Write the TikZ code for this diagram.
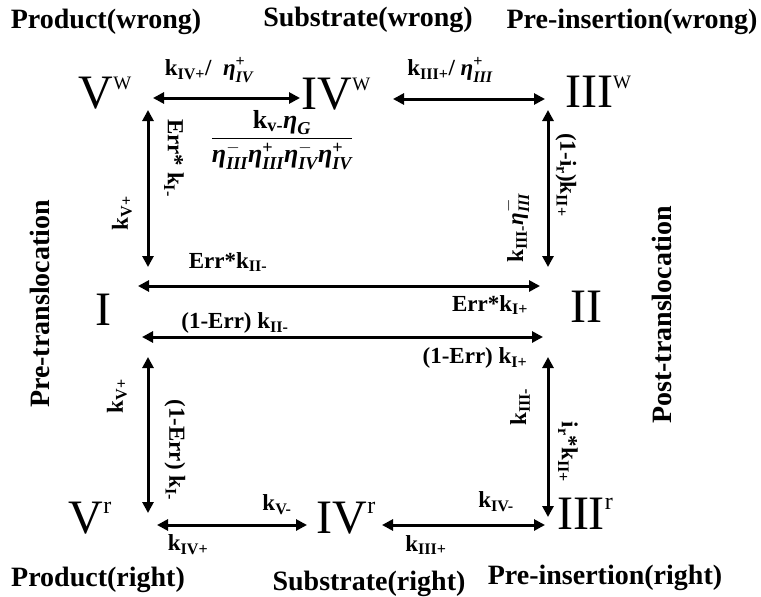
\documentclass[tikz,border=0pt]{standalone}
\usepackage{amsmath}
\usepackage{fontspec}
\setmainfont{Liberation Serif}
\usetikzlibrary{arrows.meta}

% state labels: numeral with raised W or r
\newcommand{\stateW}[1]{#1\raisebox{19pt}{\fontsize{19}{19}\selectfont W}}
\newcommand{\stateR}[1]{#1\raisebox{20pt}{\fontsize{24}{24}\selectfont r}}
% rate constants and eta factors
\newcommand{\kr}[1]{k\ensuremath{_{\text{#1}}}}
\newcommand{\et}[2]{\ensuremath{\text{\itshape η}^{\text{#1}}_{\text{\itshape #2}}}}
\newcommand{\etg}[1]{\ensuremath{\text{\itshape η}_{\text{\itshape #1}}}}

\tikzset{
    state/.style={
        font=\fontsize{48}{52}\selectfont, inner sep=0pt
    },
    head/.style={
        font=\bfseries\fontsize{28}{30}\selectfont, inner sep=0pt
    },
    rate/.style={
        font=\bfseries\fontsize{23}{26}\selectfont, inner sep=0pt
    },
    link/.style={
        line width=3pt,
        {Triangle[length=11pt,width=11pt]}-{Triangle[length=11pt,width=11pt]}
    }
}

\begin{document}
\begin{tikzpicture}[x=1pt,y=-1pt]

% --- canvas (pixel grid of the reference) ---
    \useasboundingbox (0,0) rectangle (761,597);

% states
    \node[state] (Vw)   at (105,93)  {\stateW{V}};
    \node[state] (IVw)  at (336,94)  {\stateW{IV}};
    \node[state] (IIIw) at (598,92)  {\stateW{III}};
    \node[state] (I)    at (103,310) {I};
    \node[state] (II)   at (586,307) {II};
    \node[state] (Vr)   at (90,518)  {\stateR{V}};
    \node[state] (IVr)  at (346,518) {\stateR{IV}};
    \node[state] (IIIr) at (585,514) {\stateR{III}};

% headings
    \node[head] (hPw)   at (106,22)  {Product(wrong)};
    \node[head] (hSw)   at (368,20)  {Substrate(wrong)};
    \node[head] (hIw)   at (632,22)  {Pre-insertion(wrong)};
    \node[head] (hPr)   at (98,580)  {Product(right)};
    \node[head] (hSr)   at (369,584) {Substrate(right)};
    \node[head] (hIr)   at (605,578) {Pre-insertion(right)};
    \node[head, rotate=90] (hPre)  at (40,304)  {Pre-translocation};
    \node[head, rotate=90] (hPost) at (662,315) {Post-translocation};

% arrow ends
    \coordinate (VwE)   at (153,98);
    \coordinate (IVwW)  at (300,98);
    \coordinate (IVwE)  at (393,99);
    \coordinate (IIIwW) at (545,99);
    \coordinate (VwS)   at (148,110);
    \coordinate (IN)    at (148,267);
    \coordinate (IS)    at (148,357);
    \coordinate (VrN)   at (148,513);
    \coordinate (IIIwS) at (548,110);
    \coordinate (IIN)   at (548,267);
    \coordinate (IIS)   at (548,357);
    \coordinate (IIIrN) at (548,517);
    \coordinate (IE1)   at (138,286);
    \coordinate (IIW1)  at (540,286);
    \coordinate (IE2)   at (142,337);
    \coordinate (IIW2)  at (543,337);
    \coordinate (VrE)   at (157,525);
    \coordinate (IVrW)  at (307,525);
    \coordinate (IVrE)  at (382,525);
    \coordinate (IIIrW) at (545,525);

% connectors
    \draw[link] (VwE) -- (IVwW);
    \draw[link] (IVwE) -- (IIIwW);
    \draw[link] (VwS) -- (IN);
    \draw[link] (IS) -- (VrN);
    \draw[link] (IIIwS) -- (IIN);
    \draw[link] (IIS) -- (IIIrN);
    \draw[link] (IE1) -- (IIW1);
    \draw[link] (IE2) -- (IIW2);
    \draw[link] (VrE) -- (IVrW);
    \draw[link] (IVrE) -- (IIIrW);

% rates, top row
    \node[rate] (r1) at (209,70) {\kr{IV+}/\enspace\et{+}{IV}};
    \node[rate] (r2) at (450,70) {\kr{III+}/ \et{+}{III}};
    \node[rate, font=\bfseries\fontsize{26}{28}\selectfont] (r3) at (282,140)
        {$\dfrac{\text{\kr{v-}\etg{G}}}{\text{\et{$-$}{III}\et{+}{III}\et{$-$}{IV}\et{+}{IV}}}$};

% rates, upper verticals
    \node[rate, rotate=-90] (r4) at (174,158) {Err* \kr{I-}};
    \node[rate, rotate=90]  (r5) at (122,213) {\kr{V+}};
    \node[rate, rotate=-90] (r6) at (566,175) {(1-i\ensuremath{_{\text{r}}})\kr{II+}};
    \node[rate, rotate=90]  (r7) at (516,228) {\kr{III-}\et{$-$}{III}};

% rates, middle
    \node[rate] (r8)  at (228,262) {Err*\kr{II-}};
    \node[rate] (r9)  at (490,305) {Err*\kr{I+}};
    \node[rate] (r10) at (235,323) {(1-Err) \kr{II-}};
    \node[rate] (r11) at (475,358) {(1-Err) \kr{I+}};

% rates, lower verticals
    \node[rate, rotate=90]  (r12) at (117,396) {\kr{V+}};
    \node[rate, rotate=-90] (r13) at (175,450) {(1-Err) \kr{I-}};
    \node[rate, rotate=90]  (r14) at (520,407) {\kr{III-}};
    \node[rate, rotate=-90] (r15) at (568,452) {i\ensuremath{_{\text{r}}}*\kr{II+}};

% rates, bottom row
    \node[rate] (r16) at (277,505) {\kr{V-}};
    \node[rate] (r17) at (188,545) {\kr{IV+}};
    \node[rate] (r18) at (496,502) {\kr{IV-}};
    \node[rate] (r19) at (426,545) {\kr{III+}};

\end{tikzpicture}
\end{document}
